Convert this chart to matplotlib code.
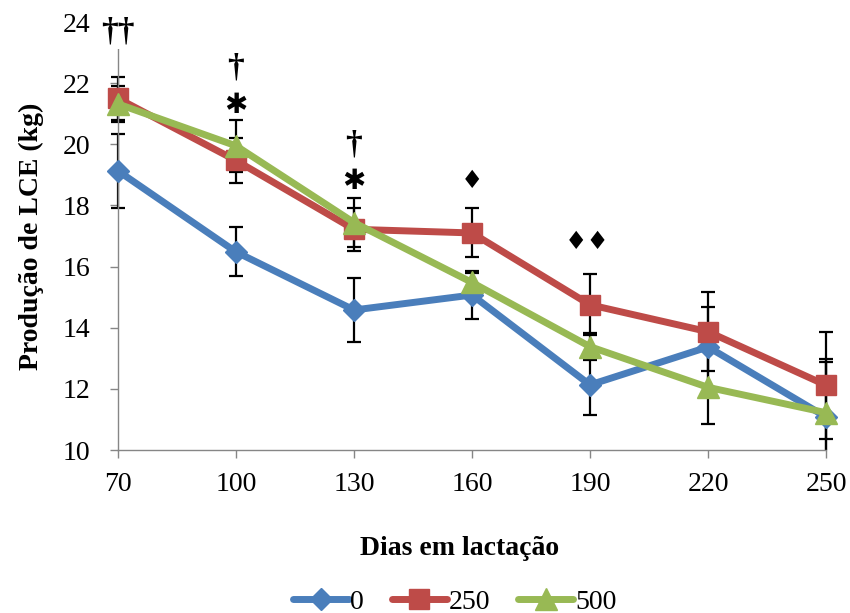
import matplotlib
matplotlib.use("Agg")
import matplotlib.pyplot as plt
from matplotlib.transforms import Bbox, TransformedBbox

days = [70, 100, 130, 160, 190, 220, 250]
series_names = ["0", "250", "500"]
v0 = [19.13, 16.48, 14.58, 15.07, 12.13, 13.37, 11.08]
v250 = [21.5, 19.47, 17.22, 17.1, 14.75, 13.87, 12.12]
v500 = [21.32, 19.95, 17.44, 15.48, 13.38, 12.05, 11.22]
e0 = [1.2, 0.8, 1.05, 0.8, 1.0, 1.3, 1.9]
e250 = [0.7, 0.75, 0.7, 0.8, 1.0, 1.3, 1.75]
e500 = [0.6, 0.85, 0.8, 0.3, 0.45, 1.2, 1.65]
yticks = [10, 12, 14, 16, 18, 20, 22, 24]
annots = [(70, 23.68, "††", 24), (100, 22.5, "†", 24), (100, 21.25, "✱", 20),
          (130, 19.98, "†", 24), (130, 18.75, "✱", 20), (160, 18.8, "♦", 18),
          (189.4, 16.8, "♦♦", 18)]

colors = ["#4A7EBB", "#BE4B48", "#98B954"]
markers = ["D", "s", "^"]
msizes = [11, 15, 16]

plt.rcParams['font.family'] = ['Liberation Serif', 'DejaVu Sans']
fig = plt.figure(figsize=(8.5, 6.13), dpi=100)
ax = fig.add_axes([0.1388, 0.2659, 0.833, 0.6982])

clipbox = TransformedBbox(Bbox([[-0.1, 0.0], [1.1, 1.2]]), ax.transAxes)
for vals, errs in zip([v0, v250, v500], [e0, e250, e500]):
    cont = ax.errorbar(days, vals, yerr=errs, fmt='none', ecolor='black', elinewidth=1.6,
                       capsize=5, capthick=1.6, zorder=2)
    _, caps, bars = cont.lines
    for a in list(caps) + list(bars):
        a.set_clip_on(True)
        a.set_clip_box(clipbox)
for vals, c, m, ms, name in zip([v0, v250, v500], colors, markers, msizes, series_names):
    ax.plot(days, vals, color=c, lw=5, marker=m, ms=ms, mfc=c, mec=c,
            label=name, zorder=3, clip_on=False, solid_capstyle='round')

for x, y, t, fs in annots:
    fam = ['DejaVu Sans'] if "♦" in t else ['Liberation Serif', 'DejaVu Sans']
    kw = {}
    if t == "††":
        kw = dict(bbox=dict(facecolor='white', edgecolor='none', pad=1))
    ax.text(x, y, t, ha='center', va='center', fontsize=fs, color='black',
            fontweight='bold', family=fam, clip_on=False, zorder=5, **kw)

ax.set_xlim(70, 250)
ax.set_ylim(10, 24)
ax.set_xticks(days)
ax.set_yticks(yticks)
ax.tick_params(axis='both', labelsize=20, colors='#000000', length=6, width=1)
ax.tick_params(axis='y', direction='out', color='#868686', pad=14)
ax.tick_params(axis='x', direction='out', color='#868686', pad=10)
for s in ['top', 'right']:
    ax.spines[s].set_visible(False)
for s in ['left', 'bottom']:
    ax.spines[s].set_color('#868686')
    ax.spines[s].set_linewidth(1)

ax.set_ylabel("Produção de LCE (kg)", fontsize=20, fontweight='bold')
ax.yaxis.set_label_coords(-0.105, 0.5)
ax.set_xlabel("Dias em lactação", fontsize=20, fontweight='bold')
ax.xaxis.set_label_coords(0.483, -0.2)

fig.legend(loc='center', bbox_to_anchor=(0.535, 0.018), ncol=3, frameon=False,
           fontsize=20, handlelength=2.0, columnspacing=1.0, handletextpad=0.05)

fig.savefig("out.png", dpi=100)
